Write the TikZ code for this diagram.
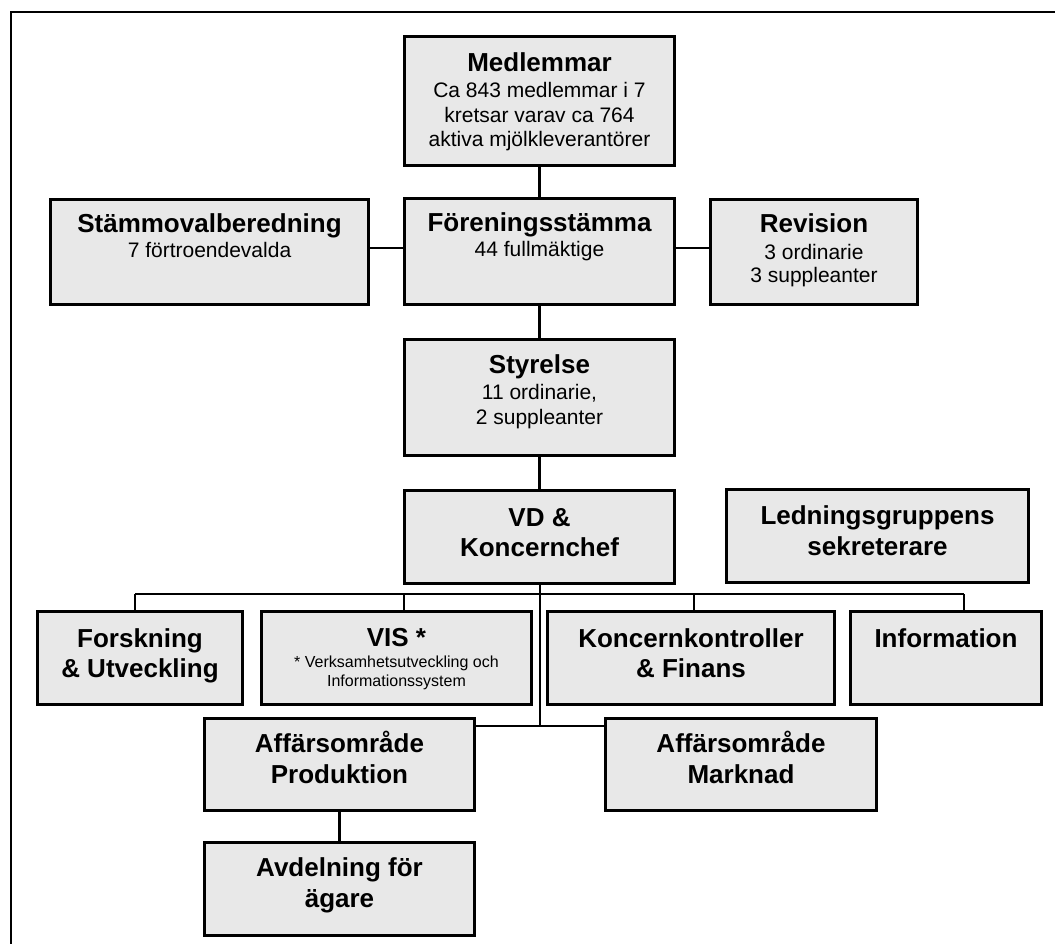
\documentclass[tikz,border=0pt]{standalone}
\usepackage{fontspec}
\setmainfont{Liberation Sans}
\definecolor{boxgray}{RGB}{232,232,232}
\newcommand\tl[4]{\node[#1,anchor=base] (#2) at (#3) {#4};}
\begin{document}
\begin{tikzpicture}[x=1pt,y=-1pt,
  box/.style={draw=black,line width=3.4pt,fill=boxgray,rectangle,inner sep=0pt},
  conn/.style={draw=black,line width=2.8pt},
  frame/.style={draw=black,line width=2pt},
  ttl/.style={font=\fontsize{26}{31}\selectfont\bfseries,inner sep=0pt},
  bdy/.style={font=\fontsize{21}{25}\selectfont,inner sep=0pt},
  sml/.style={font=\fontsize{16}{19}\selectfont,inner sep=0pt}]
\useasboundingbox (0,0) rectangle (1055,944);
\fill[white] (0,0) rectangle (1055,944);
\draw[frame] (10.5,944) -- (10.5,12) -- (1055,12);

% boxes
\node[box,minimum width=270pt,minimum height=129pt] (medl) at (539.5,101) {};
\node[box,minimum width=318pt,minimum height=105pt] (stamval) at (209.5,252) {};
\node[box,minimum width=270pt,minimum height=106pt] (foren) at (539.5,251.5) {};
\node[box,minimum width=207pt,minimum height=105pt] (rev) at (814,252) {};
\node[box,minimum width=270pt,minimum height=116pt] (styr) at (539.5,397.5) {};
\node[box,minimum width=270pt,minimum height=93pt] (vd) at (539.5,537) {};
\node[box,minimum width=302pt,minimum height=93pt] (led) at (877.5,536) {};
\node[box,minimum width=205pt,minimum height=93pt] (forsk) at (140,658) {};
\node[box,minimum width=270pt,minimum height=93pt] (vis) at (396.5,658) {};
\node[box,minimum width=287pt,minimum height=93pt] (konc) at (691,658) {};
\node[box,minimum width=191pt,minimum height=93pt] (info) at (946,658) {};
\node[box,minimum width=270pt,minimum height=92pt] (prod) at (339.5,764.5) {};
\node[box,minimum width=271pt,minimum height=92pt] (mark) at (741,764.5) {};
\node[box,minimum width=270pt,minimum height=93pt] (avd) at (339.5,889) {};

% connectors
\coordinate (sy) at (0,248);
\coordinate (bus) at (0,594);
\coordinate (hub) at (540,726);
\coordinate (d1) at (135,594);
\coordinate (d2) at (404,594);
\coordinate (d3) at (694,594);
\coordinate (d4) at (964,594);
\draw[conn] (medl.south) -- (foren.north);
\draw[conn] (stamval.east |- sy) -- (foren.west |- sy);
\draw[conn] (foren.east |- sy) -- (rev.west |- sy);
\draw[conn] (foren.south) -- (styr.north);
\draw[conn] (styr.south) -- (vd.north);
\draw[conn] (hub |- vd.south) -- (hub);
\draw[conn] (d1) -- (d4);
\draw[conn] (d1) -- (d1 |- forsk.north);
\draw[conn] (d2) -- (d2 |- vis.north);
\draw[conn] (d3) -- (d3 |- konc.north);
\draw[conn] (d4) -- (d4 |- info.north);
\draw[conn] (prod.east |- hub) -- (mark.west |- hub);
\draw[conn] (prod.south) -- (avd.north);

% texts
\tl{ttl}{medlA}{539.5,72}{Medlemmar}
\tl{bdy}{medlB}{539.5,98}{Ca 843 medlemmar i 7}
\tl{bdy}{medlC}{539.5,122.5}{kretsar varav ca 764}
\tl{bdy}{medlD}{539.5,147}{aktiva mjölkleverantörer}

\tl{ttl}{stamvalA}{209.5,233}{Stämmovalberedning}
\tl{bdy}{stamvalB}{209.5,258}{7 förtroendevalda}

\tl{ttl}{forenA}{539.5,232}{Föreningsstämma}
\tl{bdy}{forenB}{539.5,257}{44 fullmäktige}

\tl{ttl}{revA}{814,233}{Revision}
\tl{bdy}{revB}{814,259}{3 ordinarie}
\tl{bdy}{revC}{814,283}{3 suppleanter}

\tl{ttl}{styrA}{539.5,373}{Styrelse}
\tl{bdy}{styrB}{539.5,399}{11 ordinarie,}
\tl{bdy}{styrC}{539.5,424}{2 suppleanter}

\tl{ttl}{vdA}{539.5,526}{VD \&}
\tl{ttl}{vdB}{539.5,556}{Koncernchef}

\tl{ttl}{ledA}{877.5,524}{Ledningsgruppens}
\tl{ttl}{ledB}{877.5,555}{sekreterare}

\tl{ttl}{forskA}{140,647}{Forskning}
\tl{ttl}{forskB}{140,677}{\& Utveckling}

\tl{ttl}{visA}{396.5,646}{VIS *}
\tl{sml}{visB}{396.5,667}{* Verksamhetsutveckling och}
\tl{sml}{visC}{396.5,686}{Informationssystem}

\tl{ttl}{koncA}{691,647}{Koncernkontroller}
\tl{ttl}{koncB}{691,677}{\& Finans}

\tl{ttl}{infoA}{946,647}{Information}

\tl{ttl}{prodA}{339.5,752}{Affärsområde}
\tl{ttl}{prodB}{339.5,783}{Produktion}

\tl{ttl}{markA}{741,752}{Affärsområde}
\tl{ttl}{markB}{741,783}{Marknad}

\tl{ttl}{avdA}{339.5,876}{Avdelning för}
\tl{ttl}{avdB}{339.5,907}{ägare}
\end{tikzpicture}
\end{document}
